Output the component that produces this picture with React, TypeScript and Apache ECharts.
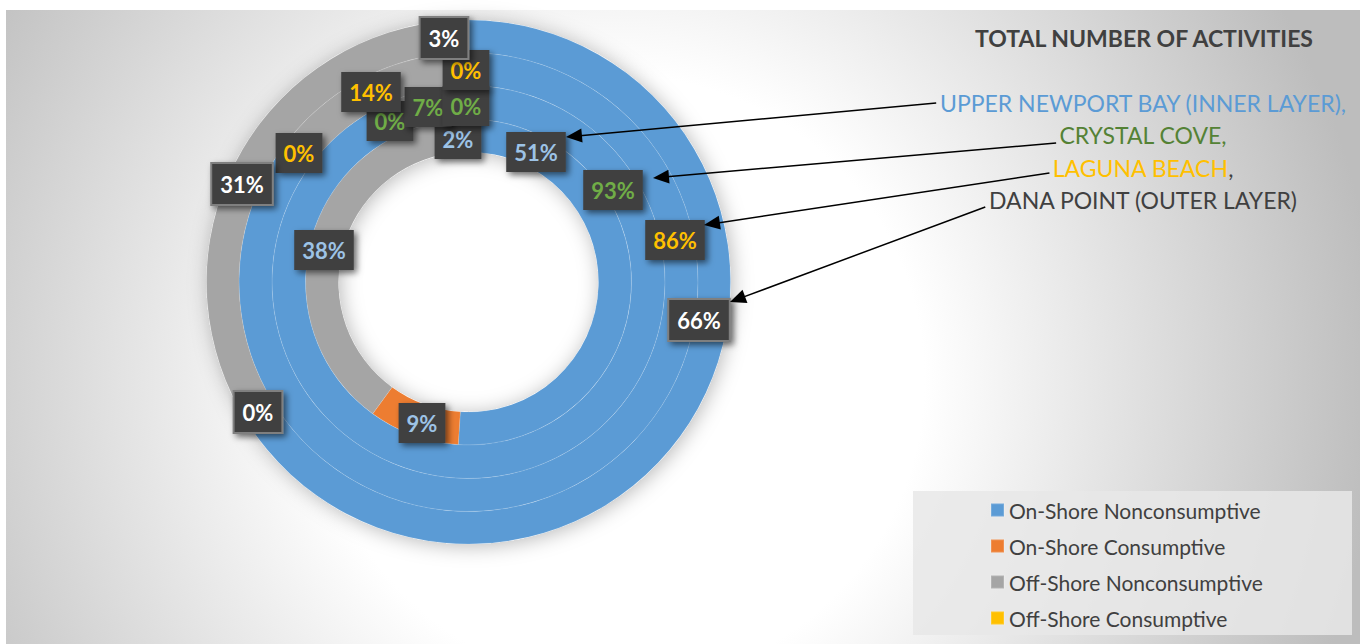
import React, { useEffect, useRef } from 'react';
import * as echarts from 'echarts';

// ---- data ----
const CATEGORIES = [
  'On-Shore Nonconsumptive',
  'On-Shore Consumptive',
  'Off-Shore Nonconsumptive',
  'Off-Shore Consumptive',
];
const COLORS = ['#5B9BD5', '#ED7D31', '#A5A5A5', '#FFC000'];
const LOCATIONS = ['Upper Newport Bay', 'Crystal Cove', 'Laguna Beach', 'Dana Point'];
const UPPER_NEWPORT_BAY = [51, 9, 38, 2];
const CRYSTAL_COVE = [93, 0, 7, 0];
const LAGUNA_BEACH = [86, 0, 14, 0];
const DANA_POINT = [66, 0, 31, 3];
const RINGS = [UPPER_NEWPORT_BAY, CRYSTAL_COVE, LAGUNA_BEACH, DANA_POINT];
const LABEL_COLORS = ['#9DC3E6', '#70AD47', '#FFC000', '#FFFFFF'];

const TITLE = 'TOTAL NUMBER OF ACTIVITIES';
const NOTES = [
  { text: 'UPPER NEWPORT BAY (INNER LAYER),', color: '#5B9BD5' },
  { text: 'CRYSTAL COVE,', color: '#548235' },
  { text: 'LAGUNA BEACH', color: '#FFC000', tail: ',' },
  { text: 'DANA POINT (OUTER LAYER)', color: '#404040' },
];

// ---- layout (positions, not data) ----
const CENTER = [468.5, 282];
const RADII = [
  [130, 163],
  [163, 196.5],
  [196.5, 229.5],
  [229.5, 262],
];
// manually placed data-label centres (as in the original chart)
const LABEL_POS = [
  [[536, 152], [422, 423], [324, 250], [458, 139]],
  [[613, 190], [390, 121], [428, 107], [466, 106]],
  [[675, 240], [299, 153], [371, 92], [466, 70]],
  [[699, 320], [258, 412], [242, 184], [444, 38]],
];
const NOTE_CX = 1143;
const NOTE_Y = [103, 135, 168, 200];
const ARROW_START_Y = [103, 143, 173, 207];
const ARROW_TIPS = [
  [566, 137],
  [653, 178],
  [704, 225],
  [730, 302],
];

export default function App() {
  const ref = useRef<HTMLDivElement>(null);

  useEffect(() => {
    document.body.style.margin = '0';
    const chart = echarts.init(ref.current as HTMLDivElement, null, { renderer: 'svg' });

    const ctx = document.createElement('canvas').getContext('2d') as CanvasRenderingContext2D;
    const noteSize = 23;
    const noteFont = `normal ${noteSize}px Lato`;
    const measure = (t: string, font: string) => {
      ctx.font = font;
      return ctx.measureText(t).width;
    };

    const ringSeries = RINGS.map((vals, i) => ({
      type: 'pie',
      name: LOCATIONS[i],
      center: CENTER,
      radius: RADII[i],
      startAngle: 90,
      clockwise: true,
      z: 2,
      silent: true,
      avoidLabelOverlap: false,
      label: { show: false },
      labelLine: { show: false },
      emphasis: { disabled: true },
      itemStyle: { borderColor: 'rgba(255,255,255,0.16)', borderWidth: 0.75 },
      data: vals.map((v, k) => ({ name: CATEGORIES[k], value: v, itemStyle: { color: COLORS[k] } })),
    }));

    const labelSeries = RINGS.map((vals, i) => ({
      type: 'pie',
      name: LOCATIONS[i] + ' labels',
      center: CENTER,
      radius: RADII[i],
      startAngle: 90,
      clockwise: true,
      z: 10 + i,
      silent: true,
      avoidLabelOverlap: false,
      emphasis: { disabled: true },
      itemStyle: { color: 'rgba(0,0,0,0)', borderWidth: 0 },
      labelLine: { show: false },
      label: {
        show: true,
        position: 'inside',
        formatter: '{c}%',
        color: LABEL_COLORS[i],
        fontFamily: 'Lato',
        fontWeight: 'bold',
        fontSize: 22,
        lineHeight: 26,
        backgroundColor: '#404040',
        padding: [7, 8, 7, 8],
        borderColor: i === 3 ? '#7f7f7f' : 'rgba(0,0,0,0)',
        borderWidth: i === 3 ? 2 : 0,
        shadowColor: 'rgba(0,0,0,0.55)',
        shadowBlur: 6,
        shadowOffsetX: 3,
        shadowOffsetY: 3,
      },
      labelLayout: (p: any) => ({
        x: LABEL_POS[i][p.dataIndex][0],
        y: LABEL_POS[i][p.dataIndex][1],
        align: 'center',
        verticalAlign: 'middle',
      }),
      data: vals.map((v, k) => ({ name: CATEGORIES[k], value: v })),
    }));

    const shadowSeries = {
      type: 'pie',
      name: 'shadow',
      center: CENTER,
      radius: [RADII[0][0], RADII[3][1]],
      z: 1,
      silent: true,
      label: { show: false },
      labelLine: { show: false },
      emphasis: { disabled: true },
      data: [
        {
          name: 'ring',
          value: 1,
          itemStyle: {
            color: '#ffffff',
            shadowBlur: 20,
            shadowColor: 'rgba(0,0,0,0.28)',
            shadowOffsetX: 2,
            shadowOffsetY: 2,
          },
        },
      ],
    };

    const graphics: any[] = [];
    graphics.push({
      type: 'rect',
      silent: true,
      z: 0,
      shape: { x: 6, y: 10, width: 1354, height: 634 },
      style: {
        fill: new echarts.graphic.RadialGradient(
          620,
          380,
          760,
          [
            { offset: 0, color: '#ffffff' },
            { offset: 0.4, color: '#ffffff' },
            { offset: 1, color: '#bdbdbd' },
          ],
          true
        ),
      },
    });
    graphics.push({
      type: 'rect',
      silent: true,
      z: 1,
      shape: { x: 913, y: 491, width: 439, height: 144 },
      style: { fill: 'rgba(232,232,232,0.85)' },
    });
    graphics.push({
      type: 'text',
      silent: true,
      z: 50,
      style: {
        x: NOTE_CX + 1,
        y: 38,
        text: TITLE,
        fontFamily: 'Lato',
        fontWeight: 'bold',
        fontSize: 23,
        fill: '#404040',
        align: 'center',
        verticalAlign: 'middle',
        textAlign: 'center',
        textVerticalAlign: 'middle',
      },
    });

    NOTES.forEach((n, i) => {
      const full = n.text + (n.tail || '');
      const w = measure(full, noteFont);
      graphics.push({
        type: 'text',
        silent: true,
        z: 50,
        style: {
          x: NOTE_CX,
          y: NOTE_Y[i],
          text: n.tail ? `{a|${n.text}}{b|${n.tail}}` : n.text,
          rich: n.tail
            ? {
                a: { fill: n.color, color: n.color, fontFamily: 'Lato', fontSize: noteSize },
                b: { fill: '#404040', color: '#404040', fontFamily: 'Lato', fontSize: noteSize },
              }
            : undefined,
          fontFamily: 'Lato',
          fontSize: noteSize,
          fill: n.color,
          align: 'center',
          verticalAlign: 'middle',
          textAlign: 'center',
          textVerticalAlign: 'middle',
        },
      });
      const sx = NOTE_CX - w / 2 - 3;
      const sy = ARROW_START_Y[i];
      const [tx, ty] = ARROW_TIPS[i];
      const dx = tx - sx;
      const dy = ty - sy;
      const L = Math.hypot(dx, dy);
      const ux = dx / L;
      const uy = dy / L;
      const hl = 16;
      const hw = 7;
      const bx = tx - ux * hl;
      const by = ty - uy * hl;
      graphics.push({
        type: 'line',
        silent: true,
        z: 50,
        shape: { x1: sx, y1: sy, x2: bx + ux * 2, y2: by + uy * 2 },
        style: { stroke: '#000000', lineWidth: 1.5 },
      });
      graphics.push({
        type: 'polygon',
        silent: true,
        z: 50,
        shape: {
          points: [
            [tx, ty],
            [bx - uy * hw, by + ux * hw],
            [bx + uy * hw, by - ux * hw],
          ],
        },
        style: { fill: '#000000' },
      });
    });

    const option: any = {
      animation: false,
      backgroundColor: '#ffffff',
      legend: {
        data: CATEGORIES,
        orient: 'vertical',
        left: 990,
        top: 499,
        padding: 0,
        itemWidth: 13,
        itemHeight: 13,
        itemGap: 14,
        icon: 'rect',
        selectedMode: false,
        textStyle: { fontSize: 21, color: '#404040', fontFamily: 'Lato', lineHeight: 22 },
      },
      graphic: { elements: graphics },
      series: [shadowSeries, ...ringSeries, ...labelSeries],
    };

    chart.setOption(option);
    return () => chart.dispose();
  }, []);

  return <div ref={ref} style={{ width: 1360, height: 644 }} />;
}
